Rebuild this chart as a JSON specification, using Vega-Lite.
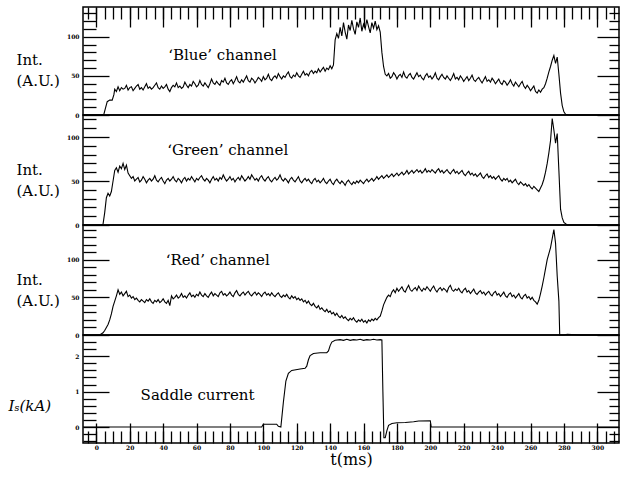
{
"$schema": "https://vega.github.io/schema/vega-lite/v6.json",
"background": "white",
"padding": {"left": 7, "top": 5, "right": 5, "bottom": 0},
"bounds": "flush",
"spacing": 0,
"config": {
 "view": {"stroke": "black", "strokeWidth": 1.5},
 "axis": {"domain": false, "grid": false, "tickColor": "black", "tickWidth": 1.3, "labelFont": "DejaVu Serif", "labelFontSize": 6, "labelFontWeight": "bold", "labelColor": "black", "titleFont": "DejaVu Serif", "titleFontWeight": "normal", "titleFontSize": 15, "titleColor": "black"},
 "text": {"font": "DejaVu Serif", "fontSize": 15, "color": "black"},
 "line": {"color": "black", "strokeWidth": 1.1, "clip": true}
},
"datasets": {
 "dummy": [{"t": 0, "v": 0}],
 "blue": [{"t":-8,"v":0},{"t":3,"v":0.5},{"t":4.5,"v":1},{"t":5.5,"v":9},{"t":6.5,"v":17},{"t":8,"v":19},{"t":9.5,"v":19},{"t":10.5,"v":26},{"t":11,"v":33},{"t":12,"v":30},{"t":13,"v":36},{"t":14,"v":31},
 {"t":15,"v":35},{"t":16,"v":33},{"t":17,"v":34},{"t":18,"v":38},{"t":19,"v":32},{"t":20,"v":35},{"t":21,"v":36},{"t":22,"v":31},{"t":23,"v":34},{"t":24,"v":37},{"t":25,"v":39},{"t":26,"v":33},{"t":27,"v":35},{"t":28,"v":32},{"t":29,"v":36},{"t":30,"v":40},{"t":31,"v":34},{"t":32,"v":36},{"t":33,"v":33},{"t":34,"v":35},{"t":35,"v":38},{"t":36,"v":41},{"t":37,"v":35},{"t":38,"v":33},{"t":39,"v":37},{"t":40,"v":34},{"t":41,"v":36},{"t":42,"v":39},{"t":43,"v":33},{"t":44,"v":30},{"t":45,"v":35},{"t":46,"v":38},{"t":47,"v":36},{"t":48,"v":41},{"t":49,"v":35},{"t":50,"v":37},{"t":51,"v":34},{"t":52,"v":36},{"t":53,"v":42},{"t":54,"v":38},{"t":55,"v":35},{"t":56,"v":39},{"t":57,"v":37},{"t":58,"v":43},{"t":59,"v":40},{"t":60,"v":36},{"t":61,"v":38},{"t":62,"v":44},{"t":63,"v":39},{"t":64,"v":37},{"t":65,"v":41},{"t":66,"v":38},{"t":67,"v":35},{"t":68,"v":40},{"t":69,"v":46},{"t":70,"v":41},{"t":71,"v":39},{"t":72,"v":43},{"t":73,"v":40},{"t":74,"v":38},{"t":75,"v":44},{"t":76,"v":42},{"t":77,"v":47},{"t":78,"v":41},{"t":79,"v":39},{"t":80,"v":43},{"t":81,"v":45},{"t":82,"v":40},{"t":83,"v":44},{"t":84,"v":49},{"t":85,"v":43},{"t":86,"v":41},{"t":87,"v":45},{"t":88,"v":42},{"t":89,"v":46},{"t":90,"v":50},{"t":91,"v":44},{"t":92,"v":42},{"t":93,"v":47},{"t":94,"v":45},{"t":95,"v":41},{"t":96,"v":44},{"t":97,"v":48},{"t":98,"v":46},{"t":99,"v":43},{"t":100,"v":49},{"t":101,"v":45},{"t":102,"v":47},{"t":103,"v":52},{"t":104,"v":46},{"t":105,"v":44},{"t":106,"v":48},{"t":107,"v":50},{"t":108,"v":47},{"t":109,"v":53},{"t":110,"v":49},{"t":111,"v":46},{"t":112,"v":50},{"t":113,"v":48},{"t":114,"v":52},{"t":115,"v":55},{"t":116,"v":49},{"t":117,"v":47},{"t":118,"v":51},{"t":119,"v":49},{"t":120,"v":54},{"t":121,"v":50},{"t":122,"v":48},{"t":123,"v":52},{"t":124,"v":56},{"t":125,"v":51},{"t":126,"v":53},{"t":127,"v":50},{"t":128,"v":55},{"t":129,"v":57},{"t":130,"v":53},{"t":131,"v":56},{"t":132,"v":54},{"t":133,"v":59},{"t":134,"v":55},{"t":135,"v":58},{"t":136,"v":61},{"t":137,"v":56},{"t":138,"v":60},{"t":139,"v":58},{"t":140,"v":63},{"t":141,"v":59},{"t":142,"v":64},
 {"t":143,"v":96},{"t":144,"v":104},{"t":145,"v":98},{"t":146,"v":112},{"t":147,"v":101},{"t":148,"v":118},{"t":149,"v":106},{"t":150,"v":97},{"t":151,"v":115},{"t":152,"v":108},{"t":153,"v":121},{"t":154,"v":110},{"t":155,"v":103},{"t":156,"v":119},{"t":157,"v":112},{"t":158,"v":124},{"t":159,"v":107},{"t":160,"v":116},{"t":161,"v":110},{"t":162,"v":122},{"t":163,"v":113},{"t":164,"v":105},{"t":165,"v":118},{"t":166,"v":111},{"t":167,"v":120},{"t":168,"v":109},{"t":169,"v":114},{"t":170,"v":106},{"t":171,"v":80},{"t":172,"v":62},{"t":173,"v":52},
 {"t":174,"v":50},{"t":175,"v":53},{"t":176,"v":47},{"t":177,"v":49},{"t":178,"v":54},{"t":179,"v":51},{"t":180,"v":46},{"t":181,"v":50},{"t":182,"v":52},{"t":183,"v":48},{"t":184,"v":55},{"t":185,"v":49},{"t":186,"v":47},{"t":187,"v":51},{"t":188,"v":53},{"t":189,"v":48},{"t":190,"v":46},{"t":191,"v":50},{"t":192,"v":54},{"t":193,"v":49},{"t":194,"v":51},{"t":195,"v":47},{"t":196,"v":45},{"t":197,"v":50},{"t":198,"v":53},{"t":199,"v":48},{"t":200,"v":50},{"t":201,"v":46},{"t":202,"v":49},{"t":203,"v":54},{"t":204,"v":47},{"t":205,"v":45},{"t":206,"v":49},{"t":207,"v":52},{"t":208,"v":48},{"t":209,"v":46},{"t":210,"v":50},{"t":211,"v":47},{"t":212,"v":44},{"t":213,"v":48},{"t":214,"v":53},{"t":215,"v":46},{"t":216,"v":48},{"t":217,"v":45},{"t":218,"v":50},{"t":219,"v":47},{"t":220,"v":43},{"t":221,"v":46},{"t":222,"v":49},{"t":223,"v":44},{"t":224,"v":47},{"t":225,"v":51},{"t":226,"v":45},{"t":227,"v":43},{"t":228,"v":46},{"t":229,"v":48},{"t":230,"v":44},{"t":231,"v":41},{"t":232,"v":45},{"t":233,"v":49},{"t":234,"v":43},{"t":235,"v":45},{"t":236,"v":42},{"t":237,"v":47},{"t":238,"v":44},{"t":239,"v":40},{"t":240,"v":43},{"t":241,"v":46},{"t":242,"v":41},{"t":243,"v":39},{"t":244,"v":44},{"t":245,"v":42},{"t":246,"v":38},{"t":247,"v":41},{"t":248,"v":45},{"t":249,"v":40},{"t":250,"v":37},{"t":251,"v":42},{"t":252,"v":39},{"t":253,"v":36},{"t":254,"v":40},{"t":255,"v":43},{"t":256,"v":37},{"t":257,"v":34},{"t":258,"v":38},{"t":259,"v":35},{"t":260,"v":31},{"t":261,"v":34},{"t":262,"v":37},{"t":263,"v":30},{"t":264,"v":28},{"t":265,"v":32},{"t":266,"v":29},{"t":267,"v":33},
 {"t":268,"v":35},{"t":269,"v":40},{"t":270,"v":47},{"t":271,"v":55},{"t":272,"v":62},{"t":273,"v":70},{"t":274,"v":76},{"t":275,"v":66},{"t":276,"v":74},{"t":277,"v":52},{"t":278,"v":28},{"t":279,"v":12},{"t":280,"v":4},{"t":281,"v":1},{"t":283,"v":0},{"t":313,"v":0}],
 "green": [{"t":-8,"v":0},{"t":3,"v":0},{"t":4,"v":1},{"t":5,"v":14},{"t":6,"v":31},{"t":7,"v":36},{"t":8,"v":33},{"t":9,"v":38},{"t":10,"v":50},{"t":11,"v":62},{"t":12,"v":65},{"t":13,"v":60},{"t":14,"v":67},{"t":15,"v":64},{"t":16,"v":70},{"t":17,"v":63},{"t":18,"v":68},{"t":19,"v":59},
 {"t":20,"v":56},{"t":21,"v":53},{"t":22,"v":55},{"t":23,"v":50},{"t":24,"v":52},{"t":25,"v":54},{"t":26,"v":49},{"t":27,"v":51},{"t":28,"v":55},{"t":29,"v":52},{"t":30,"v":48},{"t":31,"v":51},{"t":32,"v":53},{"t":33,"v":50},{"t":34,"v":52},{"t":35,"v":56},{"t":36,"v":51},{"t":37,"v":49},{"t":38,"v":52},{"t":39,"v":54},{"t":40,"v":50},{"t":41,"v":47},{"t":42,"v":51},{"t":43,"v":53},{"t":44,"v":50},{"t":45,"v":52},{"t":46,"v":55},{"t":47,"v":51},{"t":48,"v":49},{"t":49,"v":53},{"t":50,"v":51},{"t":51,"v":48},{"t":52,"v":52},{"t":53,"v":54},{"t":54,"v":50},{"t":55,"v":53},{"t":56,"v":51},{"t":57,"v":55},{"t":58,"v":52},{"t":59,"v":49},{"t":60,"v":53},{"t":61,"v":51},{"t":62,"v":54},{"t":63,"v":56},{"t":64,"v":52},{"t":65,"v":50},{"t":66,"v":53},{"t":67,"v":51},{"t":68,"v":48},{"t":69,"v":52},{"t":70,"v":55},{"t":71,"v":51},{"t":72,"v":53},{"t":73,"v":50},{"t":74,"v":54},{"t":75,"v":52},{"t":76,"v":57},{"t":77,"v":53},{"t":78,"v":50},{"t":79,"v":52},{"t":80,"v":55},{"t":81,"v":51},{"t":82,"v":53},{"t":83,"v":49},{"t":84,"v":52},{"t":85,"v":54},{"t":86,"v":51},{"t":87,"v":56},{"t":88,"v":53},{"t":89,"v":50},{"t":90,"v":52},{"t":91,"v":55},{"t":92,"v":52},{"t":93,"v":57},{"t":94,"v":54},{"t":95,"v":51},{"t":96,"v":53},{"t":97,"v":50},{"t":98,"v":54},{"t":99,"v":56},{"t":100,"v":52},{"t":101,"v":50},{"t":102,"v":53},{"t":103,"v":55},{"t":104,"v":51},{"t":105,"v":49},{"t":106,"v":52},{"t":107,"v":54},{"t":108,"v":51},{"t":109,"v":53},{"t":110,"v":57},{"t":111,"v":52},{"t":112,"v":50},{"t":113,"v":53},{"t":114,"v":51},{"t":115,"v":48},{"t":116,"v":52},{"t":117,"v":54},{"t":118,"v":51},{"t":119,"v":49},{"t":120,"v":52},{"t":121,"v":55},{"t":122,"v":50},{"t":123,"v":48},{"t":124,"v":51},{"t":125,"v":53},{"t":126,"v":50},{"t":127,"v":52},{"t":128,"v":49},{"t":129,"v":47},{"t":130,"v":51},{"t":131,"v":53},{"t":132,"v":49},{"t":133,"v":51},{"t":134,"v":48},{"t":135,"v":50},{"t":136,"v":53},{"t":137,"v":49},{"t":138,"v":47},{"t":139,"v":50},{"t":140,"v":52},{"t":141,"v":48},{"t":142,"v":46},{"t":143,"v":50},{"t":144,"v":52},{"t":145,"v":49},{"t":146,"v":47},{"t":147,"v":50},{"t":148,"v":48},{"t":149,"v":45},{"t":150,"v":49},{"t":151,"v":51},{"t":152,"v":48},{"t":153,"v":46},{"t":154,"v":49},{"t":155,"v":47},{"t":156,"v":50},{"t":157,"v":48},{"t":158,"v":51},{"t":159,"v":49},{"t":160,"v":47},{"t":161,"v":50},{"t":162,"v":52},{"t":163,"v":49},{"t":164,"v":51},{"t":165,"v":53},{"t":166,"v":50},{"t":167,"v":52},{"t":168,"v":55},{"t":169,"v":52},{"t":170,"v":54},{"t":171,"v":56},{"t":172,"v":53},{"t":173,"v":55},{"t":174,"v":57},{"t":175,"v":54},{"t":176,"v":56},{"t":177,"v":58},{"t":178,"v":55},{"t":179,"v":57},{"t":180,"v":59},{"t":181,"v":56},{"t":182,"v":58},{"t":183,"v":60},{"t":184,"v":57},{"t":185,"v":59},{"t":186,"v":62},{"t":187,"v":58},{"t":188,"v":60},{"t":189,"v":62},{"t":190,"v":59},{"t":191,"v":61},{"t":192,"v":63},{"t":193,"v":60},{"t":194,"v":62},{"t":195,"v":59},{"t":196,"v":61},{"t":197,"v":64},{"t":198,"v":60},{"t":199,"v":62},{"t":200,"v":60},{"t":201,"v":63},{"t":202,"v":61},{"t":203,"v":59},{"t":204,"v":62},{"t":205,"v":64},{"t":206,"v":60},{"t":207,"v":62},{"t":208,"v":59},{"t":209,"v":61},{"t":210,"v":63},{"t":211,"v":60},{"t":212,"v":58},{"t":213,"v":61},{"t":214,"v":63},{"t":215,"v":59},{"t":216,"v":61},{"t":217,"v":58},{"t":218,"v":60},{"t":219,"v":62},{"t":220,"v":58},{"t":221,"v":56},{"t":222,"v":59},{"t":223,"v":61},{"t":224,"v":57},{"t":225,"v":59},{"t":226,"v":56},{"t":227,"v":58},{"t":228,"v":55},{"t":229,"v":57},{"t":230,"v":59},{"t":231,"v":55},{"t":232,"v":53},{"t":233,"v":56},{"t":234,"v":58},{"t":235,"v":54},{"t":236,"v":56},{"t":237,"v":53},{"t":238,"v":55},{"t":239,"v":52},{"t":240,"v":54},{"t":241,"v":56},{"t":242,"v":52},{"t":243,"v":50},{"t":244,"v":53},{"t":245,"v":51},{"t":246,"v":53},{"t":247,"v":49},{"t":248,"v":51},{"t":249,"v":48},{"t":250,"v":50},{"t":251,"v":52},{"t":252,"v":48},{"t":253,"v":46},{"t":254,"v":49},{"t":255,"v":47},{"t":256,"v":45},{"t":257,"v":47},{"t":258,"v":44},{"t":259,"v":46},{"t":260,"v":43},{"t":261,"v":41},{"t":262,"v":44},{"t":263,"v":42},{"t":264,"v":40},{"t":265,"v":38},{"t":266,"v":42},
 {"t":267,"v":46},{"t":268,"v":52},{"t":269,"v":60},{"t":270,"v":70},{"t":271,"v":82},{"t":272,"v":96},{"t":273,"v":121},{"t":274,"v":108},{"t":275,"v":93},{"t":276,"v":104},{"t":277,"v":62},{"t":278,"v":18},{"t":279,"v":8},{"t":280,"v":3},{"t":282,"v":0},{"t":313,"v":0}],
 "red": [{"t":-8,"v":0},{"t":2,"v":0},{"t":4,"v":3},{"t":5,"v":6},{"t":6,"v":10},{"t":7,"v":14},{"t":8,"v":20},{"t":9,"v":28},{"t":10,"v":38},{"t":11,"v":45},{"t":12,"v":52},{"t":13,"v":60},
 {"t":14,"v":54},{"t":15,"v":57},{"t":16,"v":52},{"t":17,"v":55},{"t":18,"v":58},{"t":19,"v":51},{"t":20,"v":53},{"t":21,"v":49},{"t":22,"v":51},{"t":23,"v":47},{"t":24,"v":49},{"t":25,"v":46},{"t":26,"v":44},{"t":27,"v":47},{"t":28,"v":45},{"t":29,"v":43},{"t":30,"v":47},{"t":31,"v":45},{"t":32,"v":48},{"t":33,"v":44},{"t":34,"v":42},{"t":35,"v":46},{"t":36,"v":44},{"t":37,"v":47},{"t":38,"v":43},{"t":39,"v":45},{"t":40,"v":48},{"t":41,"v":44},{"t":42,"v":42},{"t":43,"v":46},{"t":44,"v":39},{"t":45,"v":52},{"t":46,"v":48},{"t":47,"v":50},{"t":48,"v":53},{"t":49,"v":49},{"t":50,"v":51},{"t":51,"v":55},{"t":52,"v":50},{"t":53,"v":52},{"t":54,"v":49},{"t":55,"v":53},{"t":56,"v":56},{"t":57,"v":51},{"t":58,"v":53},{"t":59,"v":50},{"t":60,"v":54},{"t":61,"v":52},{"t":62,"v":57},{"t":63,"v":53},{"t":64,"v":51},{"t":65,"v":55},{"t":66,"v":52},{"t":67,"v":50},{"t":68,"v":54},{"t":69,"v":57},{"t":70,"v":52},{"t":71,"v":55},{"t":72,"v":53},{"t":73,"v":51},{"t":74,"v":56},{"t":75,"v":58},{"t":76,"v":53},{"t":77,"v":55},{"t":78,"v":52},{"t":79,"v":54},{"t":80,"v":57},{"t":81,"v":53},{"t":82,"v":51},{"t":83,"v":56},{"t":84,"v":59},{"t":85,"v":54},{"t":86,"v":52},{"t":87,"v":55},{"t":88,"v":57},{"t":89,"v":53},{"t":90,"v":56},{"t":91,"v":58},{"t":92,"v":54},{"t":93,"v":52},{"t":94,"v":55},{"t":95,"v":57},{"t":96,"v":53},{"t":97,"v":56},{"t":98,"v":54},{"t":99,"v":51},{"t":100,"v":55},{"t":101,"v":57},{"t":102,"v":53},{"t":103,"v":55},{"t":104,"v":52},{"t":105,"v":56},{"t":106,"v":53},{"t":107,"v":51},{"t":108,"v":54},{"t":109,"v":56},{"t":110,"v":52},{"t":111,"v":50},{"t":112,"v":53},{"t":113,"v":51},{"t":114,"v":54},{"t":115,"v":50},{"t":116,"v":48},{"t":117,"v":52},{"t":118,"v":49},{"t":119,"v":51},{"t":120,"v":47},{"t":121,"v":49},{"t":122,"v":46},{"t":123,"v":48},{"t":124,"v":44},{"t":125,"v":46},{"t":126,"v":42},{"t":127,"v":45},{"t":128,"v":41},{"t":129,"v":39},{"t":130,"v":42},{"t":131,"v":38},{"t":132,"v":36},{"t":133,"v":39},{"t":134,"v":34},{"t":135,"v":36},{"t":136,"v":33},{"t":137,"v":31},{"t":138,"v":34},{"t":139,"v":30},{"t":140,"v":32},{"t":141,"v":28},{"t":142,"v":30},{"t":143,"v":26},{"t":144,"v":29},{"t":145,"v":25},{"t":146,"v":23},{"t":147,"v":26},{"t":148,"v":22},{"t":149,"v":24},{"t":150,"v":21},{"t":151,"v":19},{"t":152,"v":22},{"t":153,"v":20},{"t":154,"v":23},{"t":155,"v":19},{"t":156,"v":17},{"t":157,"v":20},{"t":158,"v":18},{"t":159,"v":21},{"t":160,"v":17},{"t":161,"v":19},{"t":162,"v":16},{"t":163,"v":20},{"t":164,"v":18},{"t":165,"v":21},{"t":166,"v":19},{"t":167,"v":22},{"t":168,"v":20},{"t":169,"v":23},{"t":170,"v":25},{"t":171,"v":32},{"t":172,"v":40},{"t":173,"v":45},{"t":174,"v":50},{"t":175,"v":53},{"t":176,"v":51},
 {"t":177,"v":57},{"t":178,"v":60},{"t":179,"v":56},{"t":180,"v":62},{"t":181,"v":58},{"t":182,"v":61},{"t":183,"v":64},{"t":184,"v":59},{"t":185,"v":57},{"t":186,"v":62},{"t":187,"v":66},{"t":188,"v":60},{"t":189,"v":58},{"t":190,"v":61},{"t":191,"v":63},{"t":192,"v":59},{"t":193,"v":65},{"t":194,"v":61},{"t":195,"v":58},{"t":196,"v":62},{"t":197,"v":60},{"t":198,"v":64},{"t":199,"v":61},{"t":200,"v":58},{"t":201,"v":62},{"t":202,"v":65},{"t":203,"v":60},{"t":204,"v":57},{"t":205,"v":61},{"t":206,"v":63},{"t":207,"v":59},{"t":208,"v":62},{"t":209,"v":60},{"t":210,"v":57},{"t":211,"v":63},{"t":212,"v":66},{"t":213,"v":60},{"t":214,"v":58},{"t":215,"v":61},{"t":216,"v":59},{"t":217,"v":62},{"t":218,"v":58},{"t":219,"v":56},{"t":220,"v":60},{"t":221,"v":62},{"t":222,"v":57},{"t":223,"v":59},{"t":224,"v":55},{"t":225,"v":58},{"t":226,"v":61},{"t":227,"v":56},{"t":228,"v":54},{"t":229,"v":57},{"t":230,"v":59},{"t":231,"v":55},{"t":232,"v":57},{"t":233,"v":53},{"t":234,"v":56},{"t":235,"v":58},{"t":236,"v":54},{"t":237,"v":52},{"t":238,"v":56},{"t":239,"v":58},{"t":240,"v":53},{"t":241,"v":55},{"t":242,"v":51},{"t":243,"v":54},{"t":244,"v":57},{"t":245,"v":52},{"t":246,"v":50},{"t":247,"v":54},{"t":248,"v":56},{"t":249,"v":51},{"t":250,"v":53},{"t":251,"v":49},{"t":252,"v":52},{"t":253,"v":55},{"t":254,"v":50},{"t":255,"v":48},{"t":256,"v":52},{"t":257,"v":54},{"t":258,"v":49},{"t":259,"v":51},{"t":260,"v":47},{"t":261,"v":50},{"t":262,"v":46},
 {"t":263,"v":44},{"t":264,"v":41},{"t":265,"v":46},{"t":266,"v":55},{"t":267,"v":65},{"t":268,"v":76},{"t":269,"v":88},{"t":270,"v":100},{"t":271,"v":108},{"t":272,"v":116},{"t":273,"v":128},{"t":274,"v":140},{"t":275,"v":122},{"t":276,"v":78},{"t":277,"v":45},{"t":277.5,"v":0},{"t":280,"v":0},{"t":282,"v":1},{"t":290,"v":0},{"t":313,"v":0}],
 "saddle": [{"t":-8,"v":0},{"t":99,"v":0},{"t":100,"v":0.08},{"t":108,"v":0.08},{"t":109,"v":0.02},{"t":110.5,"v":0},{"t":112,"v":0.7},{"t":113.5,"v":1.3},{"t":115,"v":1.52},{"t":117,"v":1.6},{"t":122,"v":1.64},{"t":125,"v":1.66},{"t":126,"v":1.72},{"t":127,"v":1.9},{"t":128,"v":2.02},{"t":130,"v":2.08},{"t":134,"v":2.1},{"t":138,"v":2.1},{"t":139,"v":2.15},{"t":140,"v":2.3},{"t":141,"v":2.4},{"t":143,"v":2.45},{"t":146,"v":2.47},{"t":148,"v":2.45},{"t":150,"v":2.48},{"t":152,"v":2.45},{"t":154,"v":2.47},{"t":156,"v":2.46},{"t":158,"v":2.48},{"t":160,"v":2.45},{"t":162,"v":2.47},{"t":164,"v":2.46},{"t":166,"v":2.48},{"t":168,"v":2.46},{"t":170,"v":2.47},{"t":171,"v":2.46},{"t":171.6,"v":1.0},{"t":172.2,"v":-0.3},{"t":173,"v":-0.3},{"t":174,"v":-0.1},{"t":175,"v":0.05},{"t":177,"v":0.1},{"t":180,"v":0.12},{"t":185,"v":0.13},{"t":190,"v":0.15},{"t":193,"v":0.17},{"t":200,"v":0.18},{"t":200.5,"v":0},{"t":313,"v":0}]
},
"vconcat": [
 {"width": 536, "height": 108,
  "resolve": {"axis": {"x": "independent", "y": "independent"}},
  "layer": [
   {"data": {"name": "blue"}, "mark": {"type": "line"},
    "encoding": {
     "x": {"field": "t", "type": "quantitative", "scale": {"domain": [-8, 313], "nice": false, "zero": false}, "axis": {"orient": "top", "values": [0,20,40,60,80,100,120,140,160,180,200,220,240,260,280,300], "tickSize": -20, "labels": false, "title": null}},
     "y": {"field": "v", "type": "quantitative", "scale": {"domain": [0, 138], "nice": false, "zero": false}, "axis": {"orient": "left", "values": [0,50,100], "tickSize": -26, "labelPadding": 30, "title": ["Int.", "(A.U.)"], "titleAngle": 0, "titleAlign": "left", "titleBaseline": "top", "titleX": -67, "titleY": 45, "titleLineHeight": 21}}}},
   {"data": {"name": "dummy"}, "mark": {"type": "point", "opacity": 0},
    "encoding": {
     "x": {"field": "t", "type": "quantitative", "scale": {"domain": [-8, 313], "nice": false, "zero": false}, "axis": {"orient": "top", "values": [-5,0,5,10,15,20,25,30,35,40,45,50,55,60,65,70,75,80,85,90,95,100,105,110,115,120,125,130,135,140,145,150,155,160,165,170,175,180,185,190,195,200,205,210,215,220,225,230,235,240,245,250,255,260,265,270,275,280,285,290,295,300,305,310], "tickSize": -12, "labels": false, "title": null}},
     "y": {"field": "v", "type": "quantitative", "scale": {"domain": [0, 138], "nice": false, "zero": false}, "axis": {"orient": "left", "values": [10,20,30,40,60,70,80,90,110,120,130], "tickSize": -13, "labels": false, "title": null}}}},
   {"data": {"name": "dummy"}, "mark": {"type": "point", "opacity": 0},
    "encoding": {
     "x": {"field": "t", "type": "quantitative", "scale": {"domain": [-8, 313], "nice": false, "zero": false}, "axis": null},
     "y": {"field": "v", "type": "quantitative", "scale": {"domain": [0, 138], "nice": false, "zero": false}, "axis": {"orient": "right", "values": [0,50,100], "tickSize": -22, "labels": false, "title": null}}}},
   {"data": {"name": "dummy"}, "mark": {"type": "point", "opacity": 0},
    "encoding": {
     "x": {"field": "t", "type": "quantitative", "scale": {"domain": [-8, 313], "nice": false, "zero": false}, "axis": null},
     "y": {"field": "v", "type": "quantitative", "scale": {"domain": [0, 138], "nice": false, "zero": false}, "axis": {"orient": "right", "values": [10,20,30,40,60,70,80,90,110,120,130], "tickSize": -10, "labels": false, "title": null}}}},
   {"data": {"values": [{"t": 43, "v": 77, "label": "‘Blue’ channel"}]}, "mark": {"type": "text", "align": "left", "baseline": "middle", "font": "DejaVu Serif", "fontSize": 15, "color": "black"},
    "encoding": {
     "x": {"field": "t", "type": "quantitative", "scale": {"domain": [-8, 313], "nice": false, "zero": false}, "axis": null},
     "y": {"field": "v", "type": "quantitative", "scale": {"domain": [0, 138], "nice": false, "zero": false}, "axis": null},
     "text": {"field": "label"}}}
  ]},
 {"width": 536, "height": 110,
  "resolve": {"axis": {"x": "independent", "y": "independent"}},
  "layer": [
   {"data": {"name": "green"}, "mark": {"type": "line"},
    "encoding": {
     "x": {"field": "t", "type": "quantitative", "scale": {"domain": [-8, 313], "nice": false, "zero": false}, "axis": null},
     "y": {"field": "v", "type": "quantitative", "scale": {"domain": [0, 125], "nice": false, "zero": false}, "axis": {"orient": "left", "values": [0,50,100], "tickSize": -26, "labelPadding": 30, "title": ["Int.", "(A.U.)"], "titleAngle": 0, "titleAlign": "left", "titleBaseline": "top", "titleX": -67, "titleY": 47, "titleLineHeight": 21}}}},
   {"data": {"name": "dummy"}, "mark": {"type": "point", "opacity": 0},
    "encoding": {
     "x": {"field": "t", "type": "quantitative", "scale": {"domain": [-8, 313], "nice": false, "zero": false}, "axis": null},
     "y": {"field": "v", "type": "quantitative", "scale": {"domain": [0, 125], "nice": false, "zero": false}, "axis": {"orient": "left", "values": [10,20,30,40,60,70,80,90,110,120], "tickSize": -13, "labels": false, "title": null}}}},
   {"data": {"name": "dummy"}, "mark": {"type": "point", "opacity": 0},
    "encoding": {
     "x": {"field": "t", "type": "quantitative", "scale": {"domain": [-8, 313], "nice": false, "zero": false}, "axis": null},
     "y": {"field": "v", "type": "quantitative", "scale": {"domain": [0, 125], "nice": false, "zero": false}, "axis": {"orient": "right", "values": [0,50,100], "tickSize": -22, "labels": false, "title": null}}}},
   {"data": {"name": "dummy"}, "mark": {"type": "point", "opacity": 0},
    "encoding": {
     "x": {"field": "t", "type": "quantitative", "scale": {"domain": [-8, 313], "nice": false, "zero": false}, "axis": null},
     "y": {"field": "v", "type": "quantitative", "scale": {"domain": [0, 125], "nice": false, "zero": false}, "axis": {"orient": "right", "values": [10,20,30,40,60,70,80,90,110,120], "tickSize": -10, "labels": false, "title": null}}}},
   {"data": {"values": [{"t": 42.5, "v": 85, "label": "‘Green’ channel"}]}, "mark": {"type": "text", "align": "left", "baseline": "middle", "font": "DejaVu Serif", "fontSize": 15, "color": "black"},
    "encoding": {
     "x": {"field": "t", "type": "quantitative", "scale": {"domain": [-8, 313], "nice": false, "zero": false}, "axis": null},
     "y": {"field": "v", "type": "quantitative", "scale": {"domain": [0, 125], "nice": false, "zero": false}, "axis": null},
     "text": {"field": "label"}}}
  ]},
 {"width": 536, "height": 110,
  "resolve": {"axis": {"x": "independent", "y": "independent"}},
  "layer": [
   {"data": {"name": "red"}, "mark": {"type": "line"},
    "encoding": {
     "x": {"field": "t", "type": "quantitative", "scale": {"domain": [-8, 313], "nice": false, "zero": false}, "axis": null},
     "y": {"field": "v", "type": "quantitative", "scale": {"domain": [0, 146], "nice": false, "zero": false}, "axis": {"orient": "left", "values": [0,50,100], "tickSize": -26, "labelPadding": 30, "title": ["Int.", "(A.U.)"], "titleAngle": 0, "titleAlign": "left", "titleBaseline": "top", "titleX": -67, "titleY": 47, "titleLineHeight": 21}}}},
   {"data": {"name": "dummy"}, "mark": {"type": "point", "opacity": 0},
    "encoding": {
     "x": {"field": "t", "type": "quantitative", "scale": {"domain": [-8, 313], "nice": false, "zero": false}, "axis": null},
     "y": {"field": "v", "type": "quantitative", "scale": {"domain": [0, 146], "nice": false, "zero": false}, "axis": {"orient": "left", "values": [10,20,30,40,60,70,80,90,110,120,130,140], "tickSize": -13, "labels": false, "title": null}}}},
   {"data": {"name": "dummy"}, "mark": {"type": "point", "opacity": 0},
    "encoding": {
     "x": {"field": "t", "type": "quantitative", "scale": {"domain": [-8, 313], "nice": false, "zero": false}, "axis": null},
     "y": {"field": "v", "type": "quantitative", "scale": {"domain": [0, 146], "nice": false, "zero": false}, "axis": {"orient": "right", "values": [0,50,100], "tickSize": -22, "labels": false, "title": null}}}},
   {"data": {"name": "dummy"}, "mark": {"type": "point", "opacity": 0},
    "encoding": {
     "x": {"field": "t", "type": "quantitative", "scale": {"domain": [-8, 313], "nice": false, "zero": false}, "axis": null},
     "y": {"field": "v", "type": "quantitative", "scale": {"domain": [0, 146], "nice": false, "zero": false}, "axis": {"orient": "right", "values": [10,20,30,40,60,70,80,90,110,120,130,140], "tickSize": -10, "labels": false, "title": null}}}},
   {"data": {"values": [{"t": 41.5, "v": 99, "label": "‘Red’ channel"}]}, "mark": {"type": "text", "align": "left", "baseline": "middle", "font": "DejaVu Serif", "fontSize": 15, "color": "black"},
    "encoding": {
     "x": {"field": "t", "type": "quantitative", "scale": {"domain": [-8, 313], "nice": false, "zero": false}, "axis": null},
     "y": {"field": "v", "type": "quantitative", "scale": {"domain": [0, 146], "nice": false, "zero": false}, "axis": null},
     "text": {"field": "label"}}}
  ]},
 {"width": 536, "height": 108,
  "resolve": {"axis": {"x": "independent", "y": "independent"}},
  "layer": [
   {"data": {"name": "saddle"}, "mark": {"type": "line"},
    "encoding": {
     "x": {"field": "t", "type": "quantitative", "scale": {"domain": [-8, 313], "nice": false, "zero": false}, "axis": {"orient": "bottom", "values": [0,20,40,60,80,100,120,140,160,180,200,220,240,260,280,300], "tickSize": -20, "labelPadding": 21, "title": "t(ms)", "titleFontSize": 16, "titlePadding": 1}},
     "y": {"field": "v", "type": "quantitative", "scale": {"domain": [-0.45, 2.6], "nice": false, "zero": false}, "axis": {"orient": "left", "values": [0,1,2], "tickSize": -26, "labelPadding": 30, "title": "Iₛ(kA)", "titleFontStyle": "italic", "titleAngle": 0, "titleAlign": "left", "titleBaseline": "middle", "titleX": -75, "titleY": 70}}}},
   {"data": {"name": "dummy"}, "mark": {"type": "point", "opacity": 0},
    "encoding": {
     "x": {"field": "t", "type": "quantitative", "scale": {"domain": [-8, 313], "nice": false, "zero": false}, "axis": {"orient": "bottom", "values": [-5,0,5,10,15,20,25,30,35,40,45,50,55,60,65,70,75,80,85,90,95,100,105,110,115,120,125,130,135,140,145,150,155,160,165,170,175,180,185,190,195,200,205,210,215,220,225,230,235,240,245,250,255,260,265,270,275,280,285,290,295,300,305,310], "tickSize": -12, "labels": false, "title": null}},
     "y": {"field": "v", "type": "quantitative", "scale": {"domain": [-0.45, 2.6], "nice": false, "zero": false}, "axis": {"orient": "left", "values": [-0.4,-0.2,0.2,0.4,0.6,0.8,1.2,1.4,1.6,1.8,2.2,2.4], "tickSize": -13, "labels": false, "title": null}}}},
   {"data": {"name": "dummy"}, "mark": {"type": "point", "opacity": 0},
    "encoding": {
     "x": {"field": "t", "type": "quantitative", "scale": {"domain": [-8, 313], "nice": false, "zero": false}, "axis": null},
     "y": {"field": "v", "type": "quantitative", "scale": {"domain": [-0.45, 2.6], "nice": false, "zero": false}, "axis": {"orient": "right", "values": [0,1,2], "tickSize": -22, "labels": false, "title": null}}}},
   {"data": {"name": "dummy"}, "mark": {"type": "point", "opacity": 0},
    "encoding": {
     "x": {"field": "t", "type": "quantitative", "scale": {"domain": [-8, 313], "nice": false, "zero": false}, "axis": null},
     "y": {"field": "v", "type": "quantitative", "scale": {"domain": [-0.45, 2.6], "nice": false, "zero": false}, "axis": {"orient": "right", "values": [-0.4,-0.2,0.2,0.4,0.6,0.8,1.2,1.4,1.6,1.8,2.2,2.4], "tickSize": -10, "labels": false, "title": null}}}},
   {"data": {"values": [{"t": 26.5, "v": 0.9, "label": "Saddle current"}]}, "mark": {"type": "text", "align": "left", "baseline": "middle", "font": "DejaVu Serif", "fontSize": 15, "color": "black"},
    "encoding": {
     "x": {"field": "t", "type": "quantitative", "scale": {"domain": [-8, 313], "nice": false, "zero": false}, "axis": null},
     "y": {"field": "v", "type": "quantitative", "scale": {"domain": [-0.45, 2.6], "nice": false, "zero": false}, "axis": null},
     "text": {"field": "label"}}}
  ]}
]
}
